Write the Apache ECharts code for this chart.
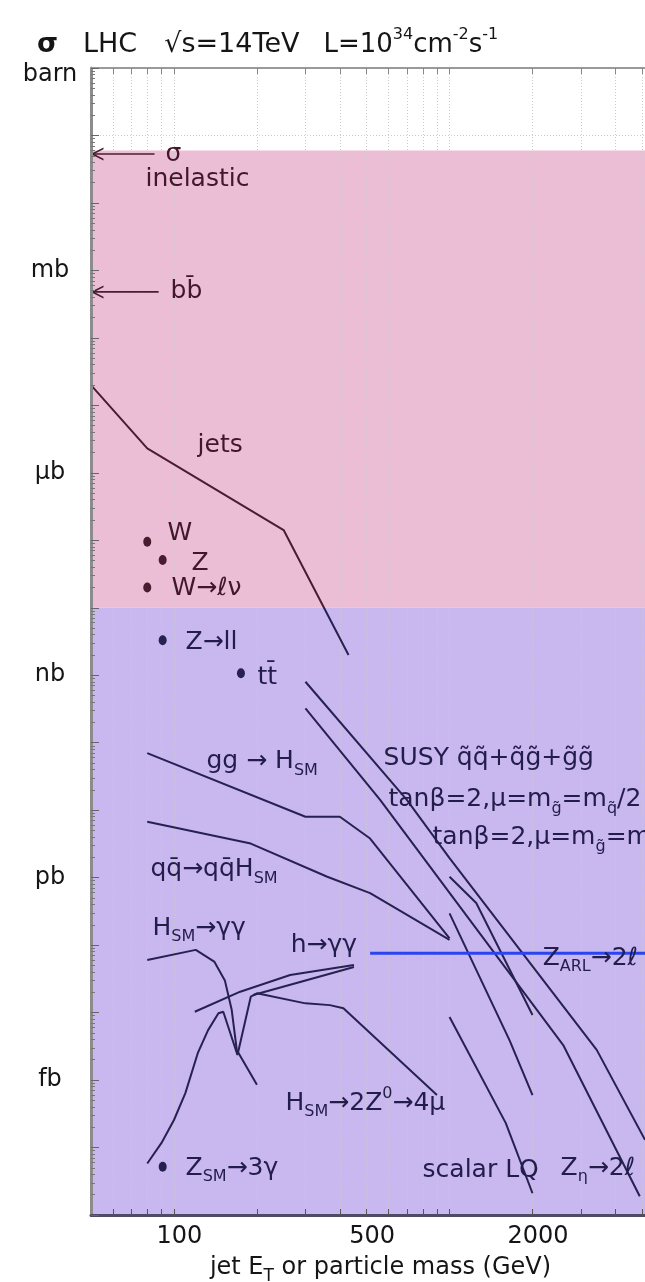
<!DOCTYPE html>
<html><head><meta charset="utf-8">
<script src="https://cdn.jsdelivr.net/npm/echarts@6/dist/echarts.min.js"></script>
<style>html,body{margin:0;padding:0;background:#fff}#c{width:645px;height:1282px}</style>
</head><body><div id="c"></div>
<script>
// ---------- axes / ticks ----------
const xMin = 50, xMax = 5120;
const yMin = 1e-17, yMax = 1;
const xTickValues = [60,70,80,90,100,200,300,400,500,600,700,800,900,1000,2000,3000,4000,5000];
const xLabelValues = [100,500,2000];
const yDecades = [1,1e-1,1e-2,1e-3,1e-4,1e-5,1e-6,1e-7,1e-8,1e-9,1e-10,1e-11,1e-12,1e-13,1e-14,1e-15,1e-16,1e-17];
const yLabelValues = [1,1e-3,1e-6,1e-9,1e-12,1e-15];
const yLabelNames = ['barn','mb','μb','nb','pb','fb'];

// ---------- regions ----------
const pinkBand = [0.06, 1e-8];
const blueBand = [1e-8, 1e-17];

// ---------- curves (x: GeV, y: barn) ----------
const jets   = [[50,2.0e-5],[80,2.3e-6],[250,1.42e-7],[430,2.0e-9]];
const ggH    = [[80,7.0e-11],[300,8.0e-12],[400,8.0e-12],[515,3.8e-12],[1000,1.26e-13]];
const qqH    = [[80,6.75e-12],[190,3.2e-12],[360,1.03e-12],[515,5.9e-13],[1000,1.2e-13]];
const HggSM  = [[80,6.0e-14],[120,8.5e-14],[140,5.7e-14],[153,3.0e-14],[162,1.1e-14],[169,2.8e-15],[200,8.5e-16]];
const hggA   = [[119,1.03e-14],[174,2.04e-14],[264,3.6e-14],[450,5.07e-14]];
const hggB   = [[194,1.82e-14],[287,2.84e-14],[450,4.73e-14]];
const HZZ    = [[80,5.8e-17],[90,1.16e-16],[100,2.56e-16],[110,6.4e-16],[122,2.5e-15],[133,5.5e-15],[145,9.8e-15],[151,1.03e-14],[170,2.35e-15],[190,1.72e-14],[200,1.93e-14],[300,1.37e-14],[368,1.29e-14],[412,1.16e-14],[900,6.0e-16]];
const susyA  = [[300,8.0e-10],[700,1.42e-11],[1000,1.95e-12],[3420,2.8e-15],[5120,1.3e-16]];
const susyB  = [[300,3.24e-10],[560,1.42e-11],[2585,3.3e-15],[4900,1.9e-17]];
const zLineA = [[1000,1.03e-12],[1250,4.2e-13],[2000,9.2e-15]];
const zLineB = [[1000,2.96e-13],[1650,3.9e-15],[2000,6.0e-16]];
const scalarLQ = [[1000,8.6e-15],[1600,2.3e-16],[2000,2.1e-17]];
const blueLine = [[515,7.6e-14],[5120,7.6e-14]];

// ---------- points ----------
const pinkPoints = [[80,9.5e-8],[91,5.1e-8],[80,2.0e-8]];      // W, Z, W->lv
const bluePoints = [[91,3.3e-9],[175,1.07e-9],[91,5.2e-17]];   // Z->ll, tt, Z->3gamma

// ---------- arrows ----------
const sigmaArrow = [[50,0.053],[85,0.053]];
const bbArrow    = [[50,4.8e-4],[88,4.8e-4]];

// ---------- annotations [text, x, y, region] ----------
const annotations = [
  ['σ', 92.8, 0.0514, 'p'],
  ['inelastic', 78.5, 0.0219, 'p'],
  ['bb\u0304', 96.8, 4.8e-4, 'p'],
  ['jets', 121.3, 2.58e-6, 'p'],
  ['W', 94.4, 1.28e-7, 'p'],
  ['Z', 115.3, 4.6e-8, 'p'],
  ['W→ℓν', 97.6, 1.96e-8, 'p'],
  ['Z→ll', 109.7, 3.1e-9, 'b'],
  ['tt\u0304', 200, 9.4e-10, 'b'],
  ['gg → H{sub|SM}', 130.7, 5.2e-11, 'b'],
  ['qq\u0304→qq\u0304H{sub|SM}', 81.8, 1.3e-12, 'b'],
  ['H{sub|SM}→γγ', 83.2, 1.79e-13, 'b'],
  ['h→γγ', 264, 1.0e-13, 'b'],
  ['SUSY q\u0303q\u0303+q\u0303g\u0303+g\u0303g\u0303', 574, 5.93e-11, 'b'],
  ['tanβ=2,μ=m{sub|g\u0303}=m{sub|q\u0303}/2', 598, 1.42e-11, 'b'],
  ['tanβ=2,μ=m{sub|g\u0303}=m', 864, 3.87e-12, 'b'],
  ['Z{sub|ARL}→2ℓ', 2168, 6.44e-14, 'b'],
  ['H{sub|SM}→2Z{sup|0}→4μ', 253, 4.57e-16, 'b'],
  ['Z{sub|SM}→3γ', 109.7, 4.97e-17, 'b'],
  ['scalar LQ', 795, 4.49e-17, 'b'],
  ['Z{sub|η}→2ℓ', 2519, 4.97e-17, 'b']
];

// ---------- styling ----------
const FONT = 'DejaVu Sans';
const NAVY = '#262150', MAROON = '#4a1c30', PINK = '#ecbed6', LAV = '#c9b7ef', BLUE = '#2b44f2';
const TXT_NAVY = '#221d4b', TXT_MAROON = '#42172a';
const RICH = {
  sub: {fontSize: 16, verticalAlign: 'bottom', lineHeight: 18, fontFamily: FONT},
  sup: {fontSize: 16, verticalAlign: 'top', lineHeight: 18, fontFamily: FONT}
};
const CHEV = 'path://M12,0 L0,6 L12,12 L12,10.4 L3.4,6 L12,1.6 Z';

const minorY = [];
yDecades.forEach(d => { for (let k = 2; k <= 9; k++) { const v = d * k; if (v < 1) minorY.push(v); } });

function curve(id, data, color, width) {
  return {id, type: 'line', data, symbol: 'none', showSymbol: false, z: 3, silent: true,
    lineStyle: {color: color || NAVY, width: width || 2}};
}
function arrow(id, data) {
  return {id, type: 'line', z: 3, silent: true, showSymbol: true,
    lineStyle: {color: MAROON, width: 1.6}, itemStyle: {color: MAROON},
    data: [{value: data[0], symbol: CHEV, symbolSize: 13, symbolOffset: [6, 0], symbolKeepAspect: true},
           {value: data[1], symbol: 'none'}]};
}

const series = [
  {id: 'areas', type: 'line', data: [], silent: true,
   markArea: {silent: true, z: 1, data: [
     [{yAxis: pinkBand[0], itemStyle: {color: PINK}}, {yAxis: pinkBand[1]}],
     [{yAxis: blueBand[0], itemStyle: {color: LAV}}, {yAxis: blueBand[1]}]
   ]}},
  {id: 'gridlines', type: 'line', data: [], silent: true,
   markLine: {silent: true, z: 1.5, symbol: ['none', 'none'], label: {show: false},
     lineStyle: {type: [1, 2], color: '#cccccc', width: 1},
     emphasis: {disabled: true},
     data: xTickValues.filter(v => v < xMax).map(v => ({xAxis: v}))
       .concat(yDecades.slice(1, -1).map(v => ({yAxis: v})))}},
  curve('jets', jets),
  curve('ggH', ggH),
  curve('qqH', qqH),
  curve('HggSM', HggSM),
  curve('hggA', hggA),
  curve('hggB', hggB),
  curve('HZZ', HZZ),
  curve('susyA', susyA),
  curve('susyB', susyB),
  curve('zLineA', zLineA),
  curve('zLineB', zLineB),
  curve('scalarLQ', scalarLQ),
  curve('blue', blueLine, BLUE, 3),
  arrow('sigma', sigmaArrow),
  arrow('bb', bbArrow),
  {id: 'pinkPts', type: 'scatter', z: 4, silent: true, symbol: 'circle', symbolSize: [8, 10],
   itemStyle: {color: MAROON, opacity: 1}, data: pinkPoints},
  {id: 'bluePts', type: 'scatter', z: 4, silent: true, symbol: 'circle', symbolSize: [8, 10],
   itemStyle: {color: NAVY, opacity: 1}, data: bluePoints},
  {id: 'labels', type: 'scatter', z: 6, silent: true, symbolSize: 1,
   itemStyle: {color: '#000', opacity: 0},
   label: {show: true, position: 'right', distance: 0, fontFamily: FONT, fontSize: 25, lineHeight: 34,
     opacity: 1, textBorderWidth: 0, formatter: p => p.name, rich: RICH},
   data: annotations.map(a => ({name: a[0], value: [a[1], a[2]],
     label: {color: a[3] === 'p' ? TXT_MAROON : TXT_NAVY, opacity: 1}}))}
];

const option = {
  animation: false,
  backgroundColor: '#ffffff',
  title: {
    text: '{s|σ}{g1| }{l|LHC}{g3| }{r|√s=14TeV}{g2| }L=10{sup|34}cm{sup|-2}s{sup|-1}',
    left: 32, top: 22,
    textStyle: {fontFamily: FONT, fontSize: 26, fontWeight: 'normal', color: '#151515', lineHeight: 36,
      rich: {s: {fontSize: 27, fontWeight: 'bold', fontFamily: FONT, lineHeight: 36},
             l: {fontSize: 27, fontFamily: FONT, lineHeight: 36},
             r: {fontSize: 27, fontFamily: FONT, lineHeight: 36},
             g1: {width: 25}, g2: {width: 24}, g3: {width: 27},
             sup: {fontSize: 16, verticalAlign: 'top', lineHeight: 18, fontFamily: FONT}}}
  },
  grid: {left: 91, right: 0, top: 68, bottom: 67, containLabel: false, outerBoundsMode: 'none'},
  xAxis: [
    {type: 'log', logBase: 10, min: xMin, max: xMax, position: 'bottom', z: 10,
     axisLine: {show: true, lineStyle: {color: '#4d4b68', width: 3}},
     axisTick: {show: true, inside: true, length: 6, customValues: xTickValues, lineStyle: {color: '#555', width: 1}},
     axisLabel: {show: true, customValues: xLabelValues, fontFamily: FONT, fontSize: 24, color: '#151515',
       margin: 10, padding: [0, 0, 0, 11], formatter: v => String(Math.round(v))},
     splitLine: {show: false}, minorTick: {show: false},
     name: 'jet E{sub|T} or particle mass (GeV)', nameLocation: 'middle', nameGap: 36, nameMoveOverlap: false,
     nameTextStyle: {fontFamily: FONT, fontSize: 24, color: '#151515', lineHeight: 34, padding: [0, 0, 0, 25],
       rich: {sub: {fontSize: 17, verticalAlign: 'bottom', lineHeight: 18, fontFamily: FONT}}}},
    {type: 'log', logBase: 10, min: xMin, max: xMax, position: 'top', z: 10,
     axisLine: {show: true, lineStyle: {color: '#9a9a9a', width: 2}},
     axisTick: {show: true, inside: true, length: 6, customValues: xTickValues, lineStyle: {color: '#888', width: 1}},
     axisLabel: {show: false}, splitLine: {show: false}}
  ],
  yAxis: [
    {type: 'log', logBase: 10, min: yMin, max: yMax, position: 'left', z: 10,
     axisLine: {show: true, lineStyle: {color: '#8c8c8c', width: 3}},
     axisTick: {show: true, inside: true, length: 8, customValues: yDecades, lineStyle: {color: '#666', width: 1}},
     axisLabel: {show: true, customValues: yLabelValues, fontFamily: FONT, fontSize: 24, color: '#151515',
       margin: 41, align: 'center',
       formatter: v => { const i = Math.round(-Math.log10(v) / 3); return i === 0 ? '{t|barn}' : yLabelNames[i]; },
       rich: {t: {fontFamily: FONT, fontSize: 24, color: '#151515', padding: [14, 0, 0, 0]}}},
     splitLine: {show: false}, minorTick: {show: false}},
    {type: 'log', logBase: 10, min: yMin, max: yMax, position: 'left', z: 10,
     axisLine: {show: false},
     axisTick: {show: true, inside: true, length: 4, customValues: minorY, lineStyle: {color: '#777', width: 1}},
     axisLabel: {show: false}, splitLine: {show: false}}
  ],
  series: series
};
const chart = echarts.init(document.getElementById('c'));
chart.setOption(option);
// jets line: maroon inside the pink band, navy below it (boundary taken from the y scale)
const yb = chart.convertToPixel({yAxisIndex: 0}, pinkBand[1]);
chart.setOption({series: [{id: 'jets', lineStyle: {color: {type: 'linear', x: 0, y: yb - 0.5, x2: 0, y2: yb + 0.5,
  global: true, colorStops: [{offset: 0, color: MAROON}, {offset: 1, color: NAVY}]}}}]});
</script>
</body></html>
